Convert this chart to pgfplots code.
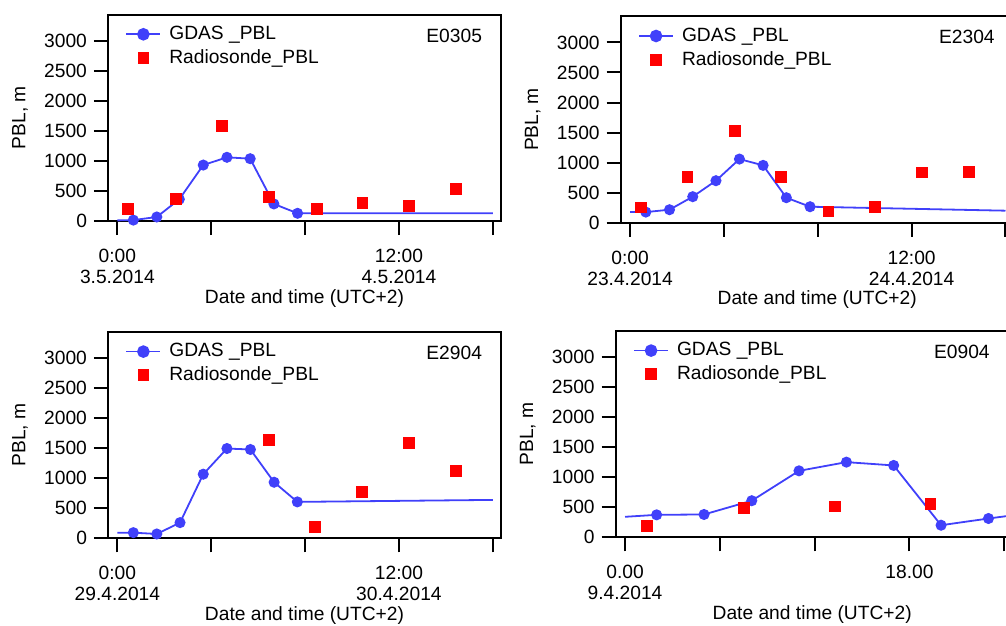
\documentclass[border=0pt]{standalone}
\usepackage{fontspec}
\setmainfont{Liberation Sans}
\usepackage{pgfplots}
\pgfplotsset{compat=1.18}

\definecolor{gdasblue}{RGB}{64,64,250}

\pgfplotsset{
  pblpanel/.style={
    scale only axis, width=196.5pt, height=103.2pt,
    anchor=south west,
    ymin=0, ymax=3435,
    ytick={0,500,...,3000},
    font=\fontsize{9.6}{10.5}\selectfont,
    /pgf/number format/assume math mode=true,
    /pgf/number format/1000 sep={},
    tick pos=left, tick align=outside,
    major tick length=7pt,
    every tick/.style={black, line width=1pt},
    axis line style={line width=1pt},
    xticklabel style={align=center, yshift=-3.5pt},
    ylabel={PBL, m}, xlabel={Date and time (UTC+2)},
    y label style={at={(axis description cs:-0.224,0.5)}, anchor=center},
    x label style={at={(axis description cs:0.5,-0.374)}, anchor=center},
    legend style={draw=none, fill=none, at={(0.028,0.985)}, anchor=north west,
      font=\fontsize{9.6}{10.5}\selectfont, row sep=-0.5pt, column sep=2pt},
    legend cell align=left,
  },
  gdas/.style={gdasblue, line width=0.9pt, mark=*, mark size=2.3pt,
    mark options={fill=gdasblue, draw=gdasblue}, mark indices={2,3,4,5,6,7,8,9},
    legend image post style={mark indices={2}, mark size=2.7pt}},
  sonde/.style={only marks, mark=square*, mark size=2.7pt, red,
    mark options={fill=red, draw=red}},
}

\begin{document}
\begin{tikzpicture}

% E0305
\begin{axis}[pblpanel, at={(54pt,-110.5pt)}, xmin=-0.40, xmax=16.35,
  xtick={0,4,8,12,16},
  xticklabels={{0:00\\3.5.2014},{},{},{12:00\\4.5.2014},{}}]
  \addplot[gdas] coordinates {(0,10) (0.68,15) (1.68,67) (2.64,362) (3.66,931)
    (4.67,1060) (5.66,1037) (6.67,284) (7.68,128) (16,128)};
  \addplot[sonde] coordinates {(0.45,201) (2.49,374) (4.45,1578) (6.45,407)
    (8.49,195) (10.44,296) (12.41,245) (14.43,535)};
  \legend{GDAS \_PBL, Radiosonde\_PBL}
  \node[anchor=east] at (rel axis cs:0.9695,0.898) {E0305};
\end{axis}

% E2304
\begin{axis}[pblpanel, at={(310.35pt,-111.35pt)}, xmin=-0.40, xmax=16.35,
  xtick={0,4,8,12,16},
  xticklabels={{0:00\\23.4.2014},{},{},{12:00\\24.4.2014},{}}]
  \addplot[gdas] coordinates {(0,177) (0.67,177) (1.68,216) (2.67,433) (3.66,699)
    (4.66,1059) (5.67,954) (6.66,416) (7.67,266) (16,200)};
  \addplot[sonde] coordinates {(0.45,255) (2.44,760) (4.45,1531) (6.44,760)
    (8.45,189) (10.45,266) (12.44,837) (14.44,849)};
  \legend{GDAS \_PBL, Radiosonde\_PBL}
  \node[anchor=east] at (rel axis cs:0.9695,0.898) {E2304};
\end{axis}

% E2904
\begin{axis}[pblpanel, at={(54pt,-269.15pt)}, xmin=-0.40, xmax=16.35,
  xtick={0,4,8,12,16},
  xticklabels={{0:00\\29.4.2014},{},{},{12:00\\30.4.2014},{}}]
  \addplot[gdas] coordinates {(0,94) (0.68,94) (1.68,72) (2.67,261) (3.66,1067)
    (4.67,1494) (5.67,1478) (6.68,933) (7.67,606) (16,639)};
  \addplot[sonde] coordinates {(6.46,1633) (8.42,194) (10.41,767) (12.41,1589)
    (14.42,1117)};
  \legend{GDAS \_PBL, Radiosonde\_PBL}
  \node[anchor=east] at (rel axis cs:0.9695,0.898) {E2904};
\end{axis}

% E0904
\begin{axis}[pblpanel, at={(307.85pt,-268.65pt)}, xmin=-0.59, xmax=24.28,
  xtick={0,6,12,18,24},
  xticklabels={{0.00\\9.4.2014},{},{},{18.00},{}}]
  \addplot[gdas] coordinates {(0,341) (2,374) (5,380) (8.02,609) (11.01,1106)
    (14.01,1251) (17,1196) (20,201) (23,313) (24.28,357)};
  \addplot[sonde] coordinates {(1.37,190) (7.51,492) (13.27,514) (19.32,559)};
  \legend{GDAS \_PBL, Radiosonde\_PBL}
  \node[anchor=east] at (rel axis cs:0.9695,0.898) {E0904};
\end{axis}

\pgfresetboundingbox
\path (0,0) rectangle (503pt,-313pt);
\end{tikzpicture}
\end{document}
